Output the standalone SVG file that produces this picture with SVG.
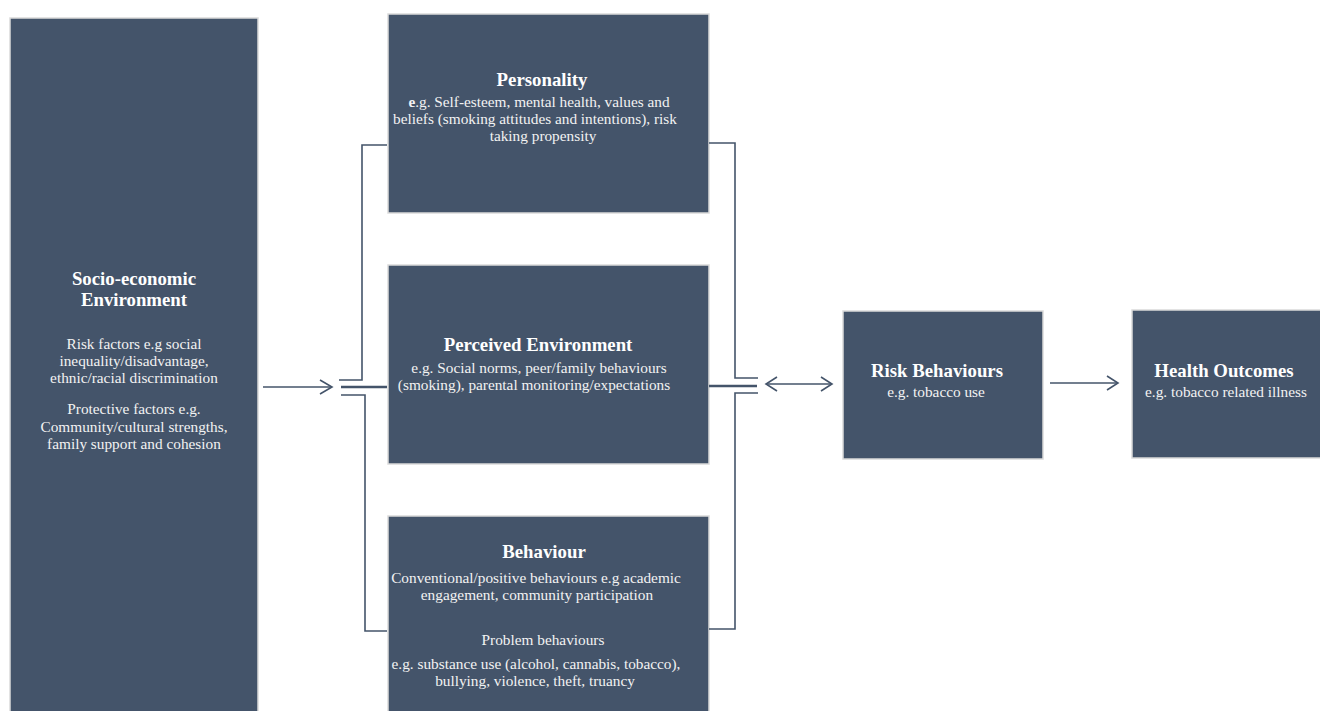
<svg xmlns="http://www.w3.org/2000/svg" width="1320" height="711" viewBox="0 0 1320 711">
<style>
.box{fill:#44546a;stroke:#dadada;stroke-width:1.5}
.t{font-family:"Liberation Serif","Times New Roman",serif;fill:#ffffff;text-anchor:middle}
.h{font-size:18.8px;font-weight:bold}
.b{font-size:15.3px;fill:#f2f2f2}
.c{fill:none;stroke:#44546a;stroke-width:1.6}
.m{fill:none;stroke:#44546a;stroke-width:2.6}
.ah{fill:none;stroke:#44546a;stroke-width:1.6}
</style>
<rect width="1320" height="711" fill="#ffffff"/>
<g id="socio">
<rect class="box" x="10" y="18" width="248" height="700"/>
<text class="t h" x="134" y="285">Socio-economic</text>
<text class="t h" x="134" y="306">Environment</text>
<text class="t b" x="134" y="349">Risk factors e.g social</text>
<text class="t b" x="134" y="366">inequality/disadvantage,</text>
<text class="t b" x="134" y="383">ethnic/racial discrimination</text>
<text class="t b" x="134" y="414">Protective factors e.g.</text>
<text class="t b" x="134" y="432">Community/cultural strengths,</text>
<text class="t b" x="134" y="449">family support and cohesion</text>
</g>
<g id="personality">
<rect class="box" x="388" y="14" width="321" height="199"/>
<text class="t h" x="542" y="86">Personality</text>
<text class="t b" x="539" y="107"><tspan font-weight="bold">e</tspan>.g. Self-esteem, mental health, values and</text>
<text class="t b" x="535" y="124">beliefs (smoking attitudes and intentions), risk</text>
<text class="t b" x="543" y="141">taking propensity</text>
</g>
<g id="perceived">
<rect class="box" x="388" y="265" width="321" height="199"/>
<text class="t h" x="538" y="351">Perceived Environment</text>
<text class="t b" x="539" y="373">e.g. Social norms, peer/family behaviours</text>
<text class="t b" x="534" y="390">(smoking), parental monitoring/expectations</text>
</g>
<g id="behaviour">
<rect class="box" x="388" y="516" width="321" height="210"/>
<text class="t h" x="544" y="558">Behaviour</text>
<text class="t b" x="536" y="583">Conventional/positive behaviours e.g academic</text>
<text class="t b" x="537" y="600">engagement, community participation</text>
<text class="t b" x="543" y="645">Problem behaviours</text>
<text class="t b" x="536" y="669">e.g. substance use (alcohol, cannabis, tobacco),</text>
<text class="t b" x="535" y="686">bullying, violence, theft, truancy</text>
</g>
<g id="risk">
<rect class="box" x="843" y="311" width="200" height="148"/>
<text class="t h" x="937" y="377">Risk Behaviours</text>
<text class="t b" x="936" y="397">e.g. tobacco use</text>
</g>
<g id="health">
<rect class="box" x="1132" y="310" width="200" height="148"/>
<text class="t h" x="1224" y="377">Health Outcomes</text>
<text class="t b" x="1226" y="397">e.g. tobacco related illness</text>
</g>
<g id="connectors">
<path class="c" d="M263 387 H332"/>
<path class="ah" d="M320 380 L332 387 L320 394"/>
<path class="c" d="M387 145 H362 V380 H339"/>
<path class="m" d="M341 387 H387"/>
<path class="c" d="M341 395 H365 V631 H387"/>
<path class="c" d="M709 143 H735 V378 H758"/>
<path class="m" d="M709 386 H757"/>
<path class="c" d="M758 393 H735 V629 H709"/>
<path class="c" d="M766 384 H832"/>
<path class="ah" d="M777 377 L766 384 L777 391"/>
<path class="ah" d="M821 377 L832 384 L821 391"/>
<path class="c" d="M1050 383 H1118"/>
<path class="ah" d="M1107 376 L1118 383 L1107 390"/>
</g>
</svg>
